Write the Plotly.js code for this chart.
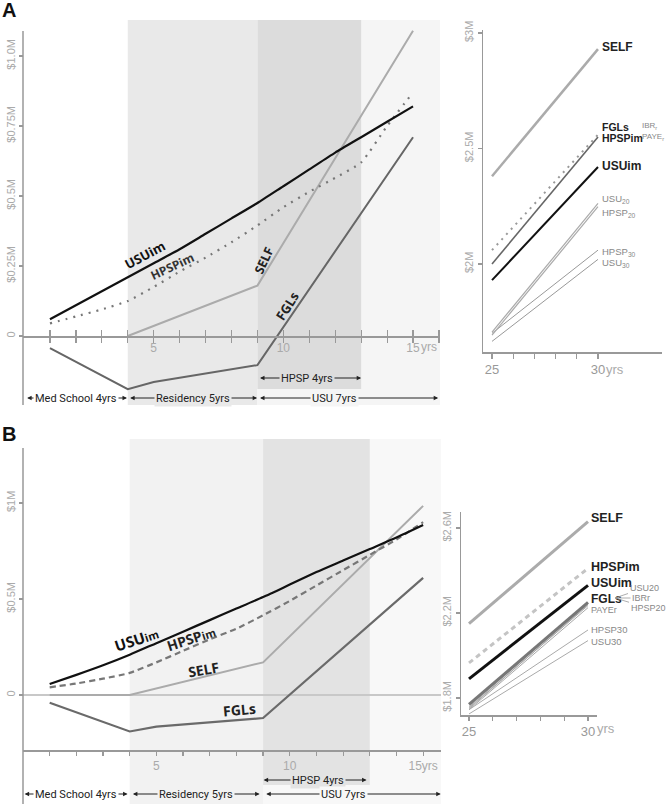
<!DOCTYPE html>
<html><head><meta charset="utf-8">
<script src="https://cdn.plot.ly/plotly-3.0.1.min.js"></script>
<style>html,body{margin:0;padding:0;background:#fff}#chart{width:666px;height:804px}</style>
</head><body><div id="chart"></div>
<script>
// ---------- DATA ----------
const years = [1,2,3,4,5,6,7,8,9,10,11,12,13,14,15];
// Panel A, main (cumulative net, $M)
const aUSUim  = [0.06,0.11,0.16,0.21,0.26,0.31,0.365,0.42,0.475,0.535,0.595,0.655,0.71,0.765,0.82];
const aHPSPim = [0.045,0.07,0.095,0.125,0.175,0.23,0.28,0.335,0.395,0.46,0.515,0.565,0.62,0.75,0.87];
const aSELFyears = [4,9,15];
const aSELF      = [0,0.18,1.09];
const aFGLsYears = [1,4,5,9,15];
const aFGLs      = [-0.043,-0.19,-0.164,-0.104,0.71];
// Panel B, main
const bUSUim  = [0.057,0.105,0.155,0.21,0.27,0.33,0.39,0.45,0.51,0.575,0.64,0.70,0.76,0.82,0.885];
const bHPSPim = [0.04,0.06,0.085,0.115,0.17,0.23,0.29,0.345,0.415,0.49,0.57,0.65,0.73,0.81,0.90];
const bSELFyears = [1,4,9,15];
const bSELF      = [0,0,0.17,0.985];
const bFGLsYears = [1,4,5,9,15];
const bFGLs      = [-0.04,-0.19,-0.165,-0.12,0.61];
// Right panels (years 25 -> 30)
const rYears = [25,30];
const arSELF   = [2.38,2.93];
const arFGLs   = [2.00,2.55];
const arHPSPim = [2.06,2.56];
const arUSUim  = [1.93,2.42];
const arUSU20  = [1.705,2.262];
const arHPSP20 = [1.692,2.248];
const arHPSP30 = [1.70,2.06];
const arUSU30  = [1.665,2.02];
const brSELF   = [2.15,2.63];
const brHPSPim = [1.965,2.41];
const brUSUim  = [1.89,2.33];
const brFGLs   = [1.77,2.25];
const brUSU20  = [1.76,2.245];
const brIBRr   = [1.755,2.235];
const brHPSP20 = [1.75,2.24];
const brPAYEr  = [1.745,2.225];
const brHPSP30 = [1.745,2.12];
const brUSU30  = [1.725,2.07];
// tick labels
const mainTickVals = [1,2,3,4,5,6,7,8,9,10,11,12,13,14,15,16];
const mainTickTextA = ['','','','','5','','','','','10','','','','','15',''];
const mainTickValsB = [1,2,3,4,5,6,7,8,9,10,11,12,13,14,15];
const mainTickTextB = ['','','','','5','','','','','10','','','','','15yrs'];
const rTickVals = [25,26,27,28,29,30];
const rTickText = ['25','','','','','30'];
const aYTickVals = [0,0.25,0.5,0.75,1.0];
const aYTickText = ['0','$0.25M','$0.5M','$0.75M','$1.0M'];
const bYTickVals = [0,0.5,1];
const bYTickText = ['0','$0.5M','$1M'];
const arYTickVals = [2,2.5,3];
const arYTickText = ['$2M','$2.5M','$3M'];
const brYTickVals = [1.8,2.2,2.6];
const brYTickText = ['$1.8M','$2.2M','$2.6M'];

// ---------- TRACES ----------
function ln(x,y,xa,ya,color,width,dash,smooth){
  const line = {color:color,width:width,dash:dash||'solid'};
  if(smooth){ line.shape='spline'; line.smoothing=smooth; }
  return {x:x,y:y,xaxis:xa,yaxis:ya,type:'scatter',mode:'lines',showlegend:false,hoverinfo:'skip',line:line};
}
const traces = [
  ln(aSELFyears,aSELF,'x','y','#ababab',2),
  ln(aFGLsYears,aFGLs,'x','y','#666',2),
  ln(years,aHPSPim,'x','y','#777',2.2,'2px,6px',0.5),
  ln(years,aUSUim,'x','y','#111',2.2,null,0.6),
  {x:[null],y:[null],xaxis:'x5',yaxis:'y',type:'scatter',mode:'lines',showlegend:false,hoverinfo:'skip'},

  ln(rYears,arUSU30,'x2','y2','#999',1),
  ln(rYears,arHPSP30,'x2','y2','#999',1),
  ln(rYears,arUSU20,'x2','y2','#aaa',1.2),
  ln(rYears,arHPSP20,'x2','y2','#aaa',1.2),
  ln(rYears,arSELF,'x2','y2','#ababab',2.5),
  ln(rYears,arHPSPim,'x2','y2','#999',2,'2px,5px'),
  ln(rYears,arFGLs,'x2','y2','#666',1.6),
  ln(rYears,arUSUim,'x2','y2','#111',2),

  ln(bSELFyears,bSELF,'x3','y3','#ababab',2),
  ln(bFGLsYears,bFGLs,'x3','y3','#6a6a6a',2.2),
  ln(years,bHPSPim,'x3','y3','#777',2.2,'6px,4px',0.5),
  ln(years,bUSUim,'x3','y3','#111',2.2,null,0.6),

  ln(rYears,brUSU30,'x4','y4','#aaa',1),
  ln(rYears,brHPSP30,'x4','y4','#aaa',1),
  ln(rYears,brPAYEr,'x4','y4','#aaa',1),
  ln(rYears,brHPSP20,'x4','y4','#aaa',1),
  ln(rYears,brIBRr,'x4','y4','#aaa',1),
  ln(rYears,brUSU20,'x4','y4','#aaa',1),
  ln(rYears,brSELF,'x4','y4','#ababab',3),
  ln(rYears,brHPSPim,'x4','y4','#c4c4c4',3,'5px,4px'),
  ln(rYears,brFGLs,'x4','y4','#777',3),
  ln(rYears,brUSUim,'x4','y4','#111',3)
];

// ---------- LAYOUT ----------
const W=666,H=804;
const fx = p => p/W, fy = p => (H-p)/H;
const tickFont = {family:'Liberation Sans, Arial, sans-serif', size:11, color:'#aaa'};
const gray='#999';
function baseAxis(o){
  return Object.assign({showgrid:false,zeroline:false,fixedrange:true,tickcolor:gray,linecolor:gray,linewidth:1.5,tickwidth:1.2,tickfont:tickFont},o);
}
const layout = {
  width:W,height:H,margin:{l:0,r:0,t:0,b:0},paper_bgcolor:'#fff',plot_bgcolor:'rgba(0,0,0,0)',
  showlegend:false,
  xaxis: baseAxis({domain:[fx(23),fx(440)],range:[-0.04,16.04],anchor:'free',position:fy(336),
    showline:true,ticks:'outside',ticklen:5,ticklabelstandoff:-5,tickvals:mainTickVals,ticktext:mainTickTextA,
    tickfont:{family:'Liberation Sans, Arial, sans-serif',size:12,color:'#aaa'}}),
  xaxis5: baseAxis({overlaying:'x',range:[-0.04,16.04],anchor:'free',position:fy(336),
    showline:false,ticks:'inside',ticklen:6,tickvals:mainTickVals,showticklabels:false}),
  yaxis: baseAxis({domain:[fy(405),fy(20)],range:[-0.2464,1.1286],anchor:'free',position:fx(23),
    showline:false,ticks:'outside',ticklen:4,tickvals:aYTickVals,ticktext:aYTickText,tickangle:-90}),
  xaxis2: baseAxis({domain:[fx(483),fx(662)],range:[24.575,33.02],anchor:'y2',showline:true,
    ticks:'outside',ticklen:5,tickvals:rTickVals,ticktext:rTickText,
    tickfont:{family:'Liberation Sans, Arial, sans-serif',size:13,color:'#999'}}),
  yaxis2: baseAxis({domain:[fy(352),fy(30)],range:[1.619,3.013],anchor:'x2',showline:true,
    ticks:'outside',ticklen:4,tickvals:arYTickVals,ticktext:arYTickText,tickangle:-90}),
  xaxis3: baseAxis({domain:[fx(23),fx(441)],range:[0,15.67],anchor:'free',position:fy(750),
    showline:true,ticks:'outside',ticklen:4,tickvals:mainTickValsB,ticktext:mainTickTextB,
    tickfont:{family:'Liberation Sans, Arial, sans-serif',size:12,color:'#aaa'}}),
  yaxis3: baseAxis({domain:[0,fy(439)],range:[-0.5677,1.3333],anchor:'free',position:fx(23),
    showline:false,zeroline:true,zerolinecolor:'#c8c8c8',zerolinewidth:1.5,
    ticks:'outside',ticklen:4,tickvals:bYTickVals,ticktext:bYTickText,tickangle:-90}),
  xaxis4: baseAxis({domain:[fx(461),fx(597)],range:[24.664,30.378],anchor:'y4',showline:true,
    ticks:'outside',ticklen:4,tickvals:rTickVals,ticktext:rTickText,
    tickfont:{family:'Liberation Sans, Arial, sans-serif',size:13,color:'#999'}}),
  yaxis4: baseAxis({domain:[fy(715),fy(512)],range:[1.72,2.675],anchor:'x4',showline:true,
    ticks:'outside',ticklen:4,tickvals:brYTickVals,ticktext:brYTickText,tickangle:-90}),
  shapes:[
    {type:'rect',layer:'below',xref:'x',yref:'y domain',x0:4,x1:9,y0:0,y1:1,fillcolor:'#e9e9e9',line:{width:0}},
    {type:'rect',layer:'below',xref:'x',yref:'y domain',x0:9,x1:16.04,y0:0,y1:1,fillcolor:'#f5f5f5',line:{width:0}},
    {type:'rect',layer:'below',xref:'x',yref:'y domain',x0:9,x1:13,y0:16/385,y1:1,fillcolor:'#dcdcdc',line:{width:0}},
    {type:'line',layer:'above',xref:'x domain',yref:'y domain',x0:0,x1:0,y0:0,y1:374/385,line:{color:gray,width:1.5}},
    {type:'rect',layer:'below',xref:'x3',yref:'y3 domain',x0:4,x1:9,y0:0,y1:1,fillcolor:'#f2f2f2',line:{width:0}},
    {type:'rect',layer:'below',xref:'x3',yref:'y3 domain',x0:9,x1:15.67,y0:0,y1:1,fillcolor:'#f8f8f8',line:{width:0}},
    {type:'rect',layer:'below',xref:'x3',yref:'y3 domain',x0:9,x1:13,y0:19/365,y1:1,fillcolor:'#e3e3e3',line:{width:0}},
    {type:'line',layer:'above',xref:'x3 domain',yref:'y3 domain',x0:0,x1:0,y0:0,y1:356/365,line:{color:gray,width:1.5}}
  ],
  annotations:[]
};

const ann = layout.annotations;
const rowFont = {family:'Roboto, Liberation Sans, sans-serif',size:11,color:'#222'};
function span(xr,yr,y,x0,x1,xc,text,bg){
  [x0,x1].forEach(h=>ann.push({xref:xr,yref:yr,x:h,y:y,axref:xr,ayref:yr,ax:xc,ay:y,text:'',
    showarrow:true,arrowhead:2,arrowsize:0.9,arrowwidth:1,arrowcolor:'#222',standoff:0,startstandoff:0}));
  ann.push({xref:xr,yref:yr,x:xc,y:y,text:text,showarrow:false,bgcolor:bg,borderpad:1,font:rowFont});
}
// Panel A rows
span('x','y',-0.15,9.1,13.0,10.9,'HPSP 4yrs','#dcdcdc');
span('x','y',-0.2214,0.12,3.97,2.0,'Med School 4yrs','#ffffff');
span('x','y',-0.2214,4.09,8.99,6.5,'Residency 5yrs','#e9e9e9');
span('x','y',-0.2214,9.1,15.97,11.96,'USU 7yrs','#f5f5f5');
// Panel B rows
span('x3','y3',-0.4427,9.02,12.88,11.05,'HPSP 4yrs','#e3e3e3');
span('x3','y3',-0.5156,0.06,3.92,2.0,'Med School 4yrs','#ffffff');
span('x3','y3',-0.5156,4.12,8.87,6.5,'Residency 5yrs','#f2f2f2');
span('x3','y3',-0.5156,9.12,15.66,12.0,'USU 7yrs','#f8f8f8');

const boldFont = (s,c)=>({family:'Open Sans, Liberation Sans, sans-serif',size:s,color:c||'#111'});
function lab(xr,yr,x,y,text,size,angle,color){
  ann.push({xref:xr,yref:yr,x:x,y:y,text:'<b>'+text+'</b>',showarrow:false,textangle:angle,font:boldFont(size,color)});
}
// main A labels
lab('x','y',4.65,0.29,'USUim',13,-28,'#111');
lab('x','y',5.7,0.25,'HPSPim',12,-25,'#333');
lab('x','y',9.25,0.27,'SELF',12.5,-65,'#222');
lab('x','y',10.15,0.107,'FGLs',13,-58,'#222');
// main B labels
lab('x3','y3',4.26,0.29,'USU<span style="font-size:11px">im</span>',15,-18,'#111');
lab('x3','y3',6.29,0.295,'HPSP<span style="font-size:11px">im</span>',14,-18,'#222');
lab('x3','y3',6.77,0.135,'SELF',14,-10,'#222');
lab('x3','y3',8.13,-0.075,'FGLs',14,-5,'#222');

// right labels
const rBold = s=>({family:'Liberation Sans, Arial, sans-serif',size:s,color:'#222'});
const rThin = s=>({family:'Liberation Sans, Arial, sans-serif',size:s,color:'#888'});
function rl(xr,yr,x,y,text,font){
  ann.push({xref:xr,yref:yr,x:x,y:y,text:text,showarrow:false,xanchor:'left',yanchor:'middle',font:font});
}
rl('x2','y2',30.09,2.94,'<b>SELF</b>',rBold(12));
rl('x2','y2',30.09,2.592,'<b>FGLs</b>',rBold(10.5));
rl('x2','y2',30.09,2.546,'<b>HPSPim</b>',rBold(10.5));
rl('x2','y2',31.97,2.596,'IBR<sub>r</sub>',rThin(8));
rl('x2','y2',31.97,2.55,'PAYE<sub>r</sub>',rThin(8));
rl('x2','y2',30.09,2.424,'<b>USUim</b>',rBold(12));
rl('x2','y2',30.09,2.28,'USU<sub>20</sub>',rThin(9.5));
rl('x2','y2',30.09,2.222,'HPSP<sub>20</sub>',rThin(9.5));
rl('x2','y2',30.09,2.052,'HPSP<sub>30</sub>',rThin(9.5));
rl('x2','y2',30.09,2.004,'USU<sub>30</sub>',rThin(9.5));

rl('x4','y4',30.04,2.647,'<b>SELF</b>',rBold(12.5));
rl('x4','y4',30.04,2.416,'<b>HPSPim</b>',rBold(12.5));
rl('x4','y4',30.04,2.341,'<b>USUim</b>',rBold(12.5));
rl('x4','y4',30.04,2.268,'<b>FGLs</b>',rBold(12));
rl('x4','y4',30.04,2.212,'PAYEr',rThin(9));
rl('x4','y4',30.04,2.12,'HPSP30',rThin(9.5));
rl('x4','y4',30.04,2.068,'USU30',rThin(9.5));
[['USU20',29,-10],['IBRr',26,0],['HPSP20',33,10]].forEach(([t,ax,ay])=>{
  ann.push({xref:'paper',yref:'paper',x:fx(615),y:fy(598),ax:ax,ay:ay,text:t,showarrow:true,arrowhead:0,
    arrowwidth:0.8,arrowcolor:'#999',standoff:0,font:rThin(9)});
});

// "yrs" suffixes and panel letters
const yrsFont = s=>({family:'Liberation Sans, Arial, sans-serif',size:s,color:'#aaa'});
ann.push({xref:'paper',yref:'paper',x:fx(419),y:fy(347),text:'yrs',showarrow:false,xanchor:'left',yanchor:'middle',font:yrsFont(12)});
ann.push({xref:'paper',yref:'paper',x:fx(604),y:fy(370),text:'yrs',showarrow:false,xanchor:'left',yanchor:'middle',font:yrsFont(13)});
ann.push({xref:'paper',yref:'paper',x:fx(595),y:fy(728),text:'yrs',showarrow:false,xanchor:'left',yanchor:'middle',font:yrsFont(13)});
ann.push({xref:'paper',yref:'paper',x:0,y:fy(10),text:'<b>A</b>',showarrow:false,xanchor:'left',yanchor:'middle',font:{family:'Liberation Sans, Arial, sans-serif',size:20,color:'#111'}});
ann.push({xref:'paper',yref:'paper',x:0,y:fy(434),text:'<b>B</b>',showarrow:false,xanchor:'left',yanchor:'middle',font:{family:'Liberation Sans, Arial, sans-serif',size:20,color:'#111'}});

Plotly.newPlot('chart',traces,layout,{staticPlot:true,displayModeBar:false});
</script></body></html>
